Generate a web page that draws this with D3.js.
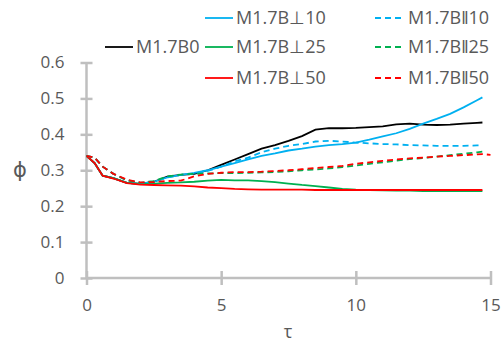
<!DOCTYPE html>
<html>
<head>
<meta charset="utf-8">
<script src="https://cdn.jsdelivr.net/npm/d3@7"></script>
<style>
  body { margin: 0; background: #fff; }
  text { font-family: "Open Sans", sans-serif; fill: #595959; }
</style>
</head>
<body>
<div id="chart"></div>
<script>
// time grid (tau)
const tGrid = [0, 0.3, 0.6, 1, 1.5, 2, 2.5, 3, 3.5, 4, 4.5, 5, 5.5, 6, 6.5, 7, 7.5,
  8, 8.5, 9, 9.5, 10, 10.5, 11, 11.5, 12, 12.5, 13, 13.5, 14, 14.5, 14.7, 15];

const b0 = [0.34, 0.32, 0.285, 0.278, 0.265, 0.262, 0.268, 0.282, 0.287, 0.29, 0.3, 0.315,
  0.33, 0.345, 0.36, 0.37, 0.382, 0.395, 0.413, 0.417, 0.417, 0.418, 0.42, 0.422, 0.428,
  0.43, 0.427, 0.426, 0.427, 0.43, 0.432, 0.433];
const perp10 = [0.34, 0.32, 0.285, 0.278, 0.265, 0.262, 0.268, 0.28, 0.287, 0.293, 0.3, 0.31,
  0.32, 0.33, 0.34, 0.347, 0.355, 0.36, 0.366, 0.37, 0.373, 0.377, 0.385, 0.394, 0.403,
  0.415, 0.43, 0.443, 0.457, 0.475, 0.495, 0.503];
const perp25 = [0.34, 0.32, 0.285, 0.278, 0.265, 0.262, 0.263, 0.265, 0.266, 0.268, 0.271, 0.273,
  0.272, 0.272, 0.27, 0.267, 0.263, 0.259, 0.256, 0.252, 0.248, 0.246, 0.245, 0.244, 0.243,
  0.243, 0.242, 0.242, 0.242, 0.242, 0.242, 0.242];
const perp50 = [0.34, 0.32, 0.285, 0.277, 0.264, 0.26, 0.259, 0.258, 0.257, 0.255, 0.252, 0.25,
  0.248, 0.247, 0.246, 0.246, 0.246, 0.246, 0.245, 0.245, 0.245, 0.245, 0.245, 0.245, 0.245,
  0.245, 0.245, 0.245, 0.245, 0.245, 0.245, 0.245];
const par10 = [0.34, 0.335, 0.31, 0.29, 0.272, 0.265, 0.267, 0.28, 0.287, 0.29, 0.298, 0.31,
  0.325, 0.335, 0.35, 0.36, 0.368, 0.373, 0.38, 0.382, 0.38, 0.377, 0.375, 0.373, 0.372,
  0.37, 0.369, 0.368, 0.368, 0.368, 0.369, 0.369];
const par25 = [0.34, 0.335, 0.31, 0.29, 0.272, 0.265, 0.27, 0.283, 0.288, 0.29, 0.291, 0.292,
  0.292, 0.293, 0.294, 0.295, 0.297, 0.3, 0.302, 0.305, 0.309, 0.313, 0.318, 0.322, 0.327,
  0.331, 0.334, 0.338, 0.342, 0.346, 0.35, 0.352];
const par50 = [0.34, 0.335, 0.31, 0.29, 0.274, 0.266, 0.267, 0.27, 0.271, 0.283, 0.29, 0.293,
  0.295, 0.295, 0.296, 0.298, 0.3, 0.303, 0.306, 0.309, 0.312, 0.318, 0.322, 0.326, 0.33,
  0.333, 0.335, 0.338, 0.34, 0.342, 0.344, 0.345, 0.343];

const xTicks = [0, 5, 10, 15];
const yTicks = [0, 0.1, 0.2, 0.3, 0.4, 0.5, 0.6];

const series = [
  { name: "M1.7B0", values: b0, color: "#000000", dash: null },
  { name: "M1.7B\u22a510", values: perp10, color: "#00b0f0", dash: null },
  { name: "M1.7B\u22a525", values: perp25, color: "#00b050", dash: null },
  { name: "M1.7B\u22a550", values: perp50, color: "#ff0000", dash: null },
  { name: "M1.7B\u201610", values: par10, color: "#00b0f0", dash: "6,4" },
  { name: "M1.7B\u201625", values: par25, color: "#00b050", dash: "6,4" },
  { name: "M1.7B\u201650", values: par50, color: "#ff0000", dash: "6,4" },
];

const width = 503, height = 343;
const svg = d3.select("#chart").append("svg")
  .attr("width", width).attr("height", height);

const x = d3.scaleLinear().domain([0, 15]).range([86.5, 490.5]);
const y = d3.scaleLinear().domain([0, 0.6]).range([278, 62.5]);

const axisColor = "#bfbfbf";

// y axis
const gy = svg.append("g").attr("transform", `translate(${x(0)},0)`)
  .call(d3.axisLeft(y).tickValues(yTicks).tickSize(6).tickPadding(16)
    .tickFormat(d => d === 0 ? "0" : d3.format(".1f")(d)));
gy.select(".domain").remove();
gy.selectAll(".tick line").attr("x1", 6).attr("stroke", axisColor).attr("stroke-width", 2.5);
gy.selectAll(".tick text").style("font-size", "17px").attr("fill", "#595959");
gy.append("line").attr("y1", y(0)).attr("y2", y(0.6))
  .attr("stroke", axisColor).attr("stroke-width", 2.5);

// x axis
const gx = svg.append("g").attr("transform", `translate(0,${y(0)})`)
  .call(d3.axisBottom(x).tickValues(xTicks).tickSize(7).tickPadding(14));
gx.select(".domain").remove();
gx.selectAll(".tick line").attr("y1", -7).attr("stroke", axisColor).attr("stroke-width", 2.5);
gx.selectAll(".tick text").style("font-size", "17px").attr("fill", "#595959");
gx.append("line").attr("x1", x(0)).attr("x2", x(15))
  .attr("stroke", axisColor).attr("stroke-width", 2.5);

// lines
const line = d3.line()
  .x((d, i) => x(tGrid[i]))
  .y(d => y(d));

series.forEach(s => {
  svg.append("path")
    .datum(s.values)
    .attr("d", line)
    .attr("fill", "none")
    .attr("stroke", s.color)
    .attr("stroke-width", 1.8)
    .attr("stroke-dasharray", s.dash);
});

// axis titles
svg.append("text").attr("x", 20).attr("y", 177)
  .attr("text-anchor", "middle")
  .style("font-family", "'DejaVu Sans', sans-serif")
  .style("font-size", "21px").text("\u03d5");
svg.append("text").attr("x", 288).attr("y", 338)
  .attr("text-anchor", "middle").style("font-size", "18px").text("\u03c4");

// legend
const legendPos = [
  { x: 105, y: 47 },
  { x: 205, y: 18 }, { x: 205, y: 47 }, { x: 205, y: 78 },
  { x: 375, y: 18 }, { x: 375, y: 47 }, { x: 375, y: 78 },
];
series.forEach((s, i) => {
  const p = legendPos[i];
  const g = svg.append("g").attr("transform", `translate(${p.x},${p.y})`);
  const len = s.dash ? 30 : 28;
  g.append("line").attr("x1", 0).attr("x2", len)
    .attr("stroke", s.color).attr("stroke-width", 1.8)
    .attr("stroke-dasharray", s.dash);
  g.append("text").attr("x", len + 3).attr("y", 6)
    .style("font-size", "18px").text(s.name);
});
</script>
</body>
</html>
